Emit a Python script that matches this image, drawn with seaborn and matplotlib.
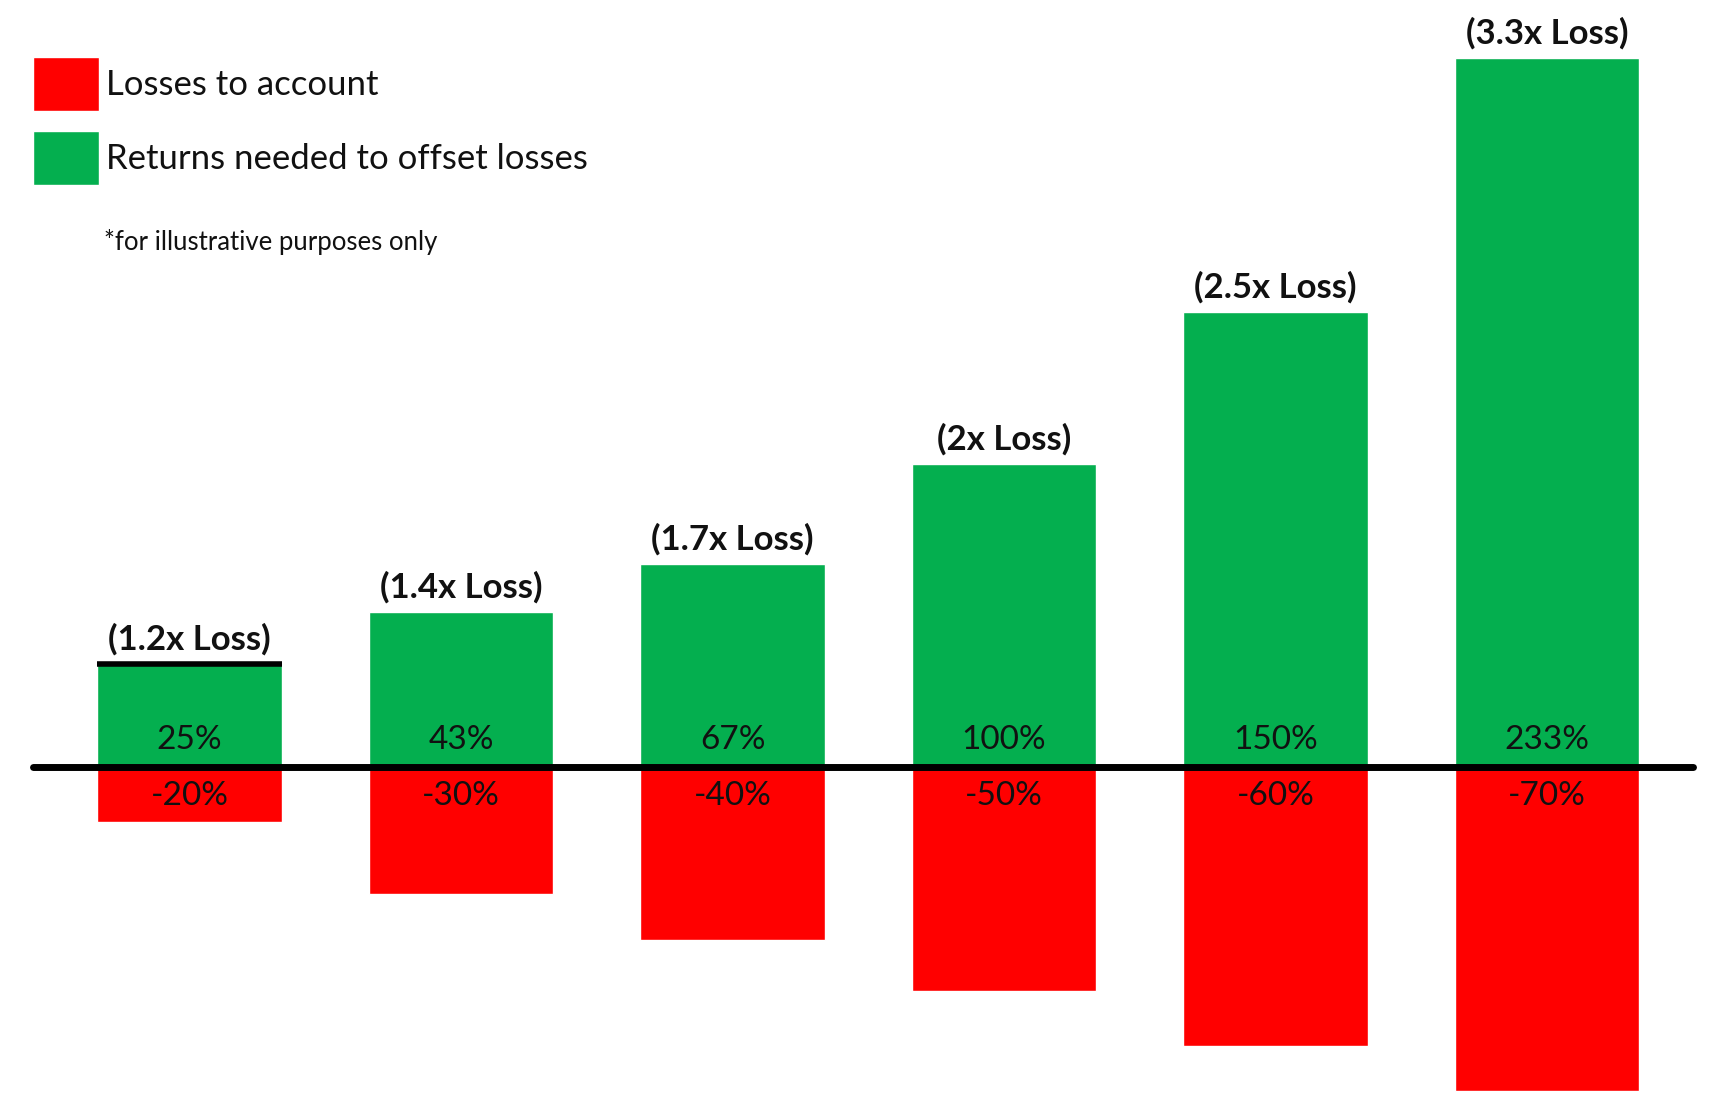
import matplotlib
matplotlib.use("Agg")
import matplotlib.pyplot as plt
from matplotlib.patches import Patch
import pandas as pd
import seaborn as sns

# loss multipliers shown above each bar
multipliers = ['1.2x', '1.4x', '1.7x', '2x', '2.5x', '3.3x']
# printed percentages
loss_pct = [-20, -30, -40, -50, -60, -70]
gain_pct = [25, 43, 67, 100, 150, 233]
# bar lengths as drawn in the picture (small bars are not to scale)
gain_drawn = [34, 51, 67, 100, 150, 234]
loss_drawn = [-18, -42, -57, -74, -92, -107]

GREEN = '#04AF4F'
RED = '#FF0000'
INK = '#111111'

sns.set_theme(style='white')
plt.rcParams['font.family'] = ['Lato', 'DejaVu Sans']

df = pd.DataFrame({'step': multipliers, 'gain': gain_drawn, 'loss': loss_drawn})

fig = plt.figure(figsize=(17.14, 11.08), dpi=100)
ax = fig.add_axes([0, 0, 1, 1])

sns.barplot(data=df, x='step', y='gain', color=GREEN, width=0.68,
            saturation=1, errorbar=None, ax=ax)
sns.barplot(data=df, x='step', y='loss', color=RED, width=0.68,
            saturation=1, errorbar=None, ax=ax)

green_bars = ax.patches[:len(multipliers)]
for i, p in enumerate(green_bars):
    cx = p.get_x() + p.get_width() / 2
    top = p.get_height()
    ax.annotate(f'({multipliers[i]} Loss)', (cx, top), xytext=(0, 25),
                textcoords='offset pixels', ha='center', va='center',
                fontsize=25, fontweight='bold', color=INK)
    ax.annotate(f'{gain_pct[i]}%', (cx, 0), xytext=(0, 27),
                textcoords='offset pixels', ha='center', va='center',
                fontsize=24, color=INK)
    ax.annotate(f'{loss_pct[i]}%', (cx, 0), xytext=(0, -29),
                textcoords='offset pixels', ha='center', va='center',
                fontsize=24, color=INK)

# black cap on the first bar
first = green_bars[0]
ax.plot([first.get_x(), first.get_x() + first.get_width()],
        [first.get_height()] * 2, color='black', lw=4, solid_capstyle='butt')

ax.axhline(0, xmin=33 / 1714, xmax=1693 / 1714, color='black', lw=5)

ax.set_xlim(-0.698, 5.615)
ax.set_ylim(-112.5, 253.1)
ax.set_axis_off()

handles = [Patch(facecolor=RED, label='Losses to account'),
           Patch(facecolor=GREEN, label='Returns needed to offset losses')]
ax.legend(handles=handles, loc='upper left', bbox_to_anchor=(33 / 1714, 1 - 57 / 1108),
          bbox_transform=fig.transFigure, frameon=False, borderpad=0, borderaxespad=0,
          fontsize=25, handlelength=1.9, handleheight=2.0, labelspacing=0.6,
          handletextpad=0.2, labelcolor=INK)

fig.text(104 / 1714, 1 - 242 / 1108, '*for illustrative purposes only',
         va='center', ha='left', fontsize=18.5, color=INK)

fig.savefig('out.png', dpi=100, facecolor='white')
